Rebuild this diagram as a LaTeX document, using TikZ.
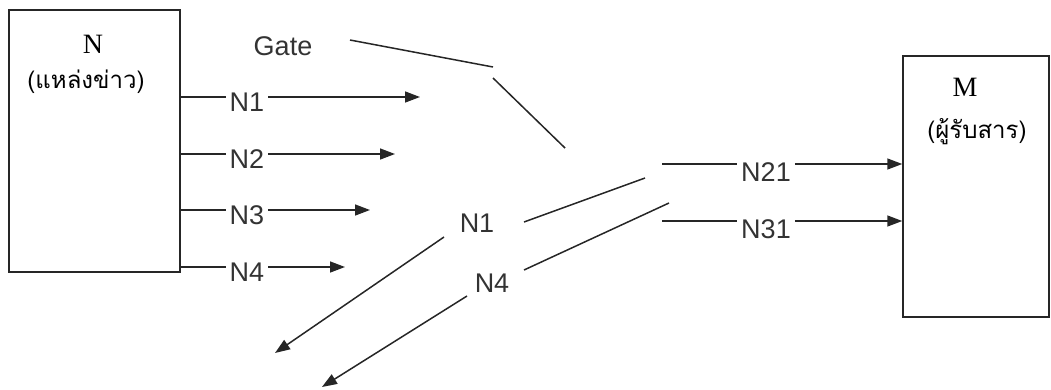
\documentclass[tikz,border=0pt]{standalone}
\usepackage{fontspec}
\setmainfont{Liberation Serif}
\newfontfamily\labelfont{Liberation Sans}
\newfontfamily\thaifont[Script=Thai]{Loma}
\usetikzlibrary{arrows.meta}
\begin{document}
\begin{tikzpicture}[x=1pt,y=-1pt,
  line/.style={draw=black!85, line width=1.5pt},
  arr/.style={line, -{Triangle[length=15pt,width=11pt]}},
  box/.style={draw=black!85, line width=1.5pt, inner sep=0pt},
  lbl/.style={font=\labelfont\fontsize{27}{30}\selectfont, text=black!80, inner xsep=4pt, inner ysep=0pt},
  ttl/.style={font=\fontsize{28}{30}\selectfont, inner sep=0pt},
  thai/.style={font=\thaifont\fontsize{24}{26}\selectfont, inner sep=0pt}]
\useasboundingbox (0,0) rectangle (1051,389);
% boxes
\node[box, minimum width=171pt, minimum height=262pt] (N) at (94.5,141) {};
\node[ttl] (Nt) at (93,44) {N};
\node[thai] (Ns) at (86,82) {(แหล่งข่าว)};
\node[box, minimum width=146pt, minimum height=261pt] (M) at (976,186.5) {};
\node[ttl] (Mt) at (965,87) {M};
\node[thai] (Ms) at (977,132) {(ผู้รับสาร)};
% gate
\node[lbl] (gate) at (283,46) {Gate};
\coordinate (g1) at (350,40);
\coordinate (g2) at (493,67);
\coordinate (g3) at (493,78);
\coordinate (g4) at (565,148);
\draw[line] (g1) -- (g2);
\draw[line] (g3) -- (g4);
% source outputs
\foreach \i/\y/\tx in {1/97/420, 2/154/395, 3/210/370, 4/267/345}{
  \coordinate (s\i) at (N.east |- 0,\y);
  \coordinate (t\i) at (\tx,\y);
  \node[lbl] (l\i) at (247,\y+5) {N\i};
  \draw[line] (s\i) -- (s\i -| l\i.west);
  \draw[arr] (s\i -| l\i.east) -- (t\i);
}
% middle
\node[lbl] (m1) at (477,223) {N1};
\node[lbl] (m4) at (492,283) {N4};
\coordinate (a1) at (524,222);
\coordinate (b1) at (645,178);
\coordinate (a4) at (524,270);
\coordinate (b4) at (669,203);
\draw[line] (a1) -- (b1);
\draw[line] (a4) -- (b4);
\coordinate (c1) at (444,237);
\coordinate (d1) at (275,353);
\coordinate (c4) at (467,296);
\coordinate (d4) at (322,387);
\draw[arr] (c1) -- (d1);
\draw[arr] (c4) -- (d4);
% outputs to receiver
\node[lbl] (r21) at (766,172) {N21};
\node[lbl] (r31) at (766,229) {N31};
\coordinate (p21) at (662,164);
\coordinate (p31) at (662,221);
\draw[line] (p21) -- (p21 -| r21.west);
\draw[arr] (p21 -| r21.east) -- (p21 -| M.west);
\draw[line] (p31) -- (p31 -| r31.west);
\draw[arr] (p31 -| r31.east) -- (p31 -| M.west);
\end{tikzpicture}
\end{document}
